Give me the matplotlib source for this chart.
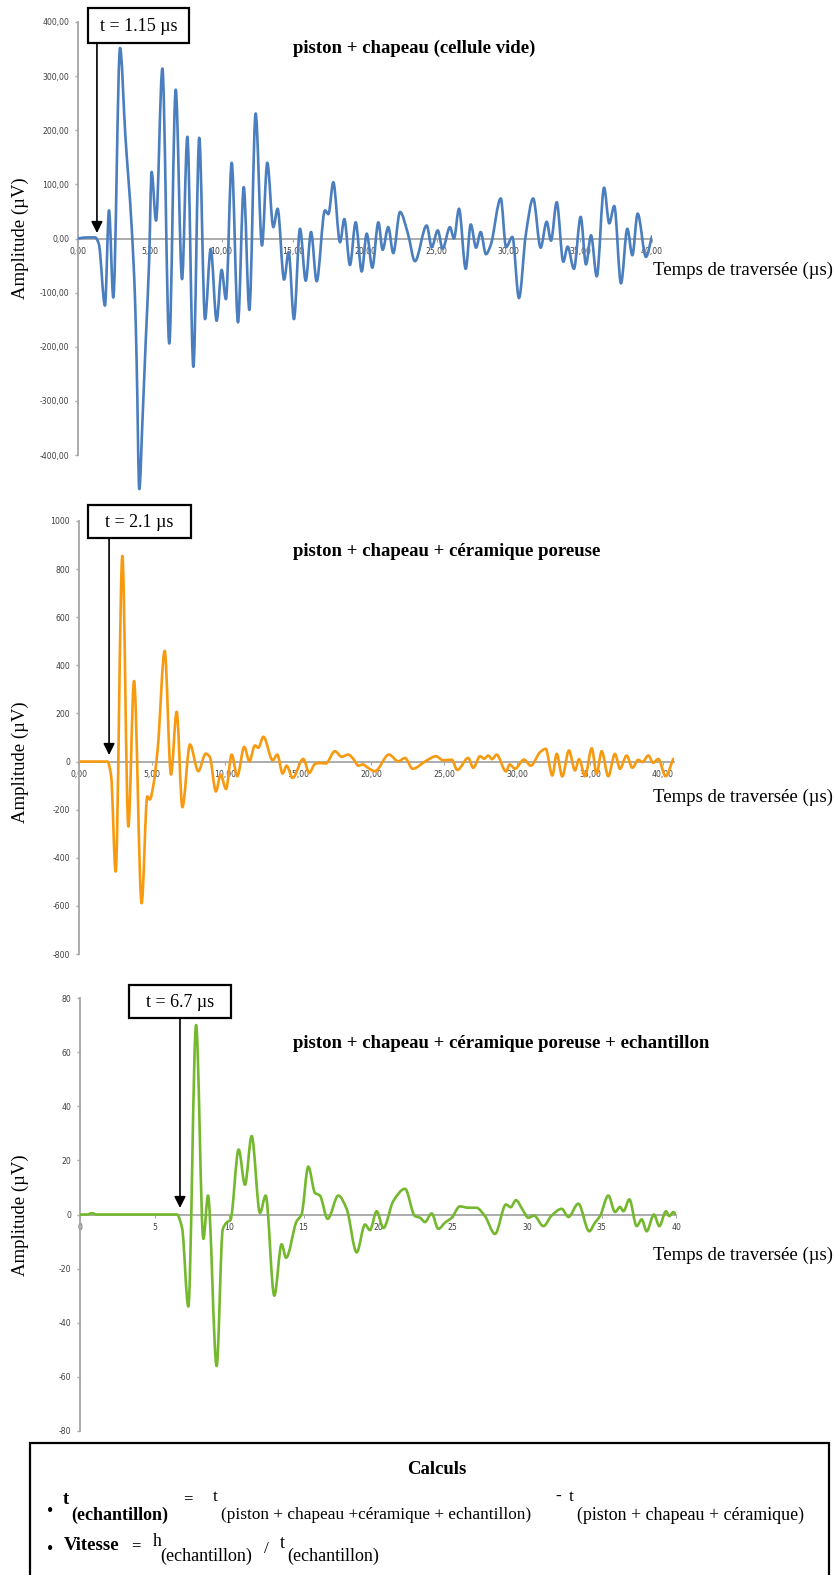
import matplotlib
matplotlib.use("Agg")
import matplotlib.pyplot as plt
import numpy as np
from matplotlib.path import Path
from matplotlib.patches import PathPatch, Rectangle

# ---------------- data ----------------
t1 = [0, 0.6, 1.2, 1.45, 1.88, 2.16, 2.46, 2.93, 3.3, 3.74, 3.97, 4.09, 4.27, 4.5, 4.72, 4.95,
      5.13, 5.44, 5.88, 6.36, 6.81, 7.25, 7.62, 8.04, 8.45, 8.85, 9.25, 9.66, 10.01, 10.31, 10.71,
      11.15, 11.55, 11.94, 12.38, 12.82, 13.19, 13.61, 13.91, 14.36, 14.68, 15.05, 15.47, 15.87,
      16.24, 16.63, 17.21, 17.45, 17.79, 18.26, 18.56, 18.95, 19.35, 19.77, 20.12, 20.51, 20.93,
      21.23, 21.62, 21.97, 22.44, 23.0, 23.48, 24.3, 24.65, 25.07, 25.41, 25.92, 26.2, 26.55,
      27.02, 27.37, 27.74, 28.06, 28.43, 28.76, 29.46, 29.83, 30.27, 30.73, 31.2, 31.72, 32.24,
      32.66, 32.96, 33.36, 33.82, 34.12, 34.56, 35.03, 35.4, 35.75, 36.15, 36.66, 37.02, 37.37,
      37.84, 38.28, 38.63, 39.0, 39.58, 40.0]
a1 = [0, 2, 2, -10, -124, 52, -109, 352, 190, 21, -109, -232, -463, -331, -189, -47,
      123, 33, 314, -194, 275, -75, 188, -237, 186, -149, -19, -152, -58, -112, 140,
      -155, 95, -132, 231, -13, 140, 21, 55, -76, -25, -149, 18, -78,
      12, -79, 52, 45, 104, -7, 36, -49, 30, -61, 9, -54, 30,
      -21, 21, -27, 49, 8, -42, 24, -16, 15, -19, 21, 0, 55,
      -56, 26, -17, 12, -29, -12, 74, -16, 3, -110, 6, 74, -17,
      31, -4, 67, -43, -15, -56, 40, -48, 6, -70, 94, 28, 60,
      -83, 18, -31, 46, -34, 4]

t2 = [0, 1.0, 1.95, 2.2, 2.51, 2.97, 3.38, 3.77, 4.29, 4.68, 4.85, 5.1, 5.4, 5.87, 6.3, 6.69,
      7.08, 7.6, 8.17, 8.68, 8.95, 9.38, 9.7, 10.07, 10.46, 10.84, 11.32, 11.67, 12.05, 12.28,
      12.63, 13.27, 13.58, 13.95, 14.22, 14.63, 15.36, 15.77, 16.16, 16.5, 16.9, 17.53, 17.99,
      18.45, 18.8, 19.13, 19.45, 19.7, 20.27, 21.23, 21.87, 22.33, 22.85, 23.8, 24.45, 24.95,
      25.53, 25.91, 26.66, 27.0, 27.47, 27.75, 28.03, 28.3, 28.6, 29.25, 29.5, 29.86, 30.48,
      30.94, 31.58, 31.96, 32.42, 32.72, 33.1, 33.56, 33.97, 34.25, 34.66, 35.12, 35.45, 35.8,
      36.25, 36.71, 37.05, 37.51, 37.9, 38.3, 38.6, 38.99, 39.33, 39.68, 40.18, 40.7]
a2 = [0, 0, 0, -60, -457, 855, -270, 335, -589, -145, -158, -96, 60, 460, -54, 207,
      -190, 71, -40, 33, 20, -124, -54, -114, 29, -61, 61, 1, 67, 57,
      103, 5, 29, -50, -17, -68, 11, -47, -10, -6, -8, 43, 20,
      29, 10, -17, -12, -22, -40, 29, 1, 15, -30, 4, 22, 5,
      8, -35, 15, -26, 22, 12, 25, 10, 29, -41, -12, -30, 8,
      -17, 39, 53, -58, 32, -62, 46, -37, 10, -61, 55, -51, 43,
      -61, 32, -30, 25, -26, 7, -2, 25, -5, 11, -61, 11]

t3 = [0, 0.5, 0.8, 1.1, 6.5, 6.85, 7.27, 7.79, 8.28, 8.59, 9.17, 9.58, 9.84, 10.1, 10.65,
      11.07, 11.52, 12.08, 12.46, 13.04, 13.53, 13.83, 14.54, 14.87, 15.32, 15.77, 16.1,
      16.62, 17.34, 17.9, 18.57, 19.13, 19.46, 19.91, 20.36, 21.03, 21.81, 22.48, 22.82,
      23.15, 23.6, 24.05, 24.5, 24.94, 25.5, 26.06, 26.6, 27.18, 27.85, 28.59, 28.9, 29.26,
      29.7, 30.09, 30.47, 31.1, 31.65, 32.33, 32.78, 33.44, 34.18, 34.56, 34.9, 35.46,
      35.91, 36.24, 36.47, 36.87, 37.36, 37.7, 38.03, 38.52, 38.88, 39.33, 39.55, 39.82, 40.0]
a3 = [0, 0, 0.5, 0, 0, -5, -34, 70, -9, 7, -56, -5.5, -3, -2, 24,
      11, 29, 0.6, 7, -30, -11, -16, -2.5, 0, 17.7, 8, 7,
      -1.6, 7, 2, -14, -3.7, -5.8, 1.2, -5, 5, 9.5, -0.6, -1.2,
      -2.8, 0.4, -5.3, -3, -1.2, 3, 2.5, 2.5, -0.6, -7.2, 3.7, 2.7, 5.3,
      1.8, -1.2, -0.4, -4.3, -0.4, 2.1, -0.9, 4, -6.2, -3, -0.6, 7,
      0.9, 2.8, 1.2, 5.6, -4.3, -1.8, -6.2, 0, -4.3, 1.2, -0.6, 0.9, 0]

titles = ["piston + chapeau (cellule vide)",
          "piston + chapeau + céramique poreuse",
          "piston + chapeau + céramique poreuse + echantillon"]
onset_labels = ["t = 1.15 µs", "t = 2.1 µs", "t = 6.7 µs"]
xticks1 = [0, 5, 10, 15, 20, 25, 30, 35, 40]
yticks1 = [-400, -300, -200, -100, 0, 100, 200, 300, 400]
yticks2 = [-800, -600, -400, -200, 0, 200, 400, 600, 800, 1000]
yticks3 = [-80, -60, -40, -20, 0, 20, 40, 60, 80]
colors = ["#4a7ebf", "#f79a0f", "#74b82e"]

# ---------------- figure ----------------
W, H = 835, 1575
fig = plt.figure(figsize=(W / 100, H / 100), dpi=100)
fig.patch.set_facecolor("white")
SERIF = "Liberation Serif"
TICKFONT = "DejaVu Sans"
AXC = "#a6a6a6"


def fx(px):
    return px / W


def fy(py):
    return 1 - py / H


def smooth_path(x, y):
    """Excel-like smoothed line rendered as cubic Bezier segments."""
    x = np.asarray(x, float)
    y = np.asarray(y, float)
    h = np.diff(x)
    d = np.diff(y) / h
    n = len(x)
    m = np.zeros(n)
    m[0], m[-1] = d[0], d[-1]
    for i in range(1, n - 1):
        if d[i - 1] * d[i] <= 0:
            m[i] = 0.0
        else:
            w1 = 2 * h[i] + h[i - 1]
            w2 = h[i] + 2 * h[i - 1]
            m[i] = (w1 + w2) / (w1 / d[i - 1] + w2 / d[i])
    verts = [(x[0], y[0])]
    codes = [Path.MOVETO]
    for i in range(n - 1):
        verts += [(x[i] + h[i] / 3, y[i] + m[i] * h[i] / 3),
                  (x[i + 1] - h[i] / 3, y[i + 1] - m[i + 1] * h[i] / 3),
                  (x[i + 1], y[i + 1])]
        codes += [Path.CURVE4] * 3
    return Path(verts, codes)


def make_panel(x0, x1, ytop, ybot, xlim, ylim, xticks, yticks, xfmt, yfmt, ybounds):
    ax = fig.add_axes([fx(x0), fy(ybot), (x1 - x0) / W, (ybot - ytop) / H])
    ax.set_xlim(*xlim)
    ax.set_ylim(*ylim)
    ax.patch.set_alpha(0)
    for s in ("top", "right"):
        ax.spines[s].set_visible(False)
    ax.spines["left"].set_color(AXC)
    ax.spines["left"].set_linewidth(1.3)
    ax.spines["left"].set_bounds(*ybounds)
    ax.spines["bottom"].set_position(("data", 0))
    ax.spines["bottom"].set_color(AXC)
    ax.spines["bottom"].set_linewidth(1.3)
    ax.set_xticks(xticks)
    ax.set_xticklabels([xfmt(v) for v in xticks])
    ax.set_yticks(yticks)
    ax.set_yticklabels([yfmt(v) for v in yticks])
    ax.tick_params(axis="y", direction="out", length=2.2, width=1.0, color=AXC,
                   pad=4.2, labelsize=5.6, labelcolor="#404040")
    ax.tick_params(axis="x", direction="out", length=1.8, width=0.8, color=AXC,
                   pad=4.0, labelsize=5.6, labelcolor="#404040")
    for lab in ax.get_xticklabels() + ax.get_yticklabels():
        lab.set_fontfamily(TICKFONT)
    return ax


fmt2 = lambda v: f"{v:.2f}".replace(".", ",")
fmti = lambda v: f"{v:d}"

ax1 = make_panel(78, 652, 22, 22 + 875 * 0.54125, (0, 40), (-475, 400),
                 xticks1, yticks1, fmt2, fmt2, (-400, 400))
ax2 = make_panel(79, 79 + 40.75 * 14.6, 521, 954, (0, 40.75), (-800, 1000),
                 xticks1, yticks2, fmt2, fmti, (-800, 1000))
ax3 = make_panel(80, 676, 998, 1431, (0, 40), (-80, 80),
                 xticks1, yticks3, fmti, fmti, (-80, 80))

axes = [ax1, ax2, ax3]
series = [(t1, a1), (t2, a2), (t3, a3)]
for ax, (tt, aa), c in zip(axes, series, colors):
    ax.add_patch(PathPatch(smooth_path(tt, aa), facecolor="none", edgecolor=c,
                           lw=1.9, zorder=3, capstyle="round", joinstyle="round"))

# titles, axis labels
title_y = [48, 552, 1043]
zero_y = [238, 762, 1215]
xlabel_y = [270, 797, 1255]
for ttl, ty, zy, xy in zip(titles, title_y, zero_y, xlabel_y):
    fig.text(fx(293), fy(ty), ttl, fontfamily=SERIF, fontweight="bold", fontsize=13.5,
             ha="left", va="center")
    fig.text(fx(20), fy(zy), "Amplitude (µV)", fontfamily=SERIF, fontsize=13.5,
             rotation=90, ha="center", va="center")
    fig.text(fx(653), fy(xy), "Temps de traversée (µs)", fontfamily=SERIF, fontsize=13.5,
             ha="left", va="center")

# onset boxes and arrows
boxes = [(88, 189, 8, 43), (88, 191, 505, 538), (129, 231, 985, 1018)]
arrow_t = [1.32, 2.06, 6.71]
arrow_tip = [233, 755, 1208]
for ax, lab, (bx0, bx1, by0, by1), at, tip in zip(axes, onset_labels, boxes, arrow_t, arrow_tip):
    fig.add_artist(Rectangle((fx(bx0), fy(by1)), (bx1 - bx0) / W, (by1 - by0) / H,
                             transform=fig.transFigure, fill=True, facecolor="white",
                             edgecolor="black", lw=1.6, zorder=5))
    fig.text(fx((bx0 + bx1) / 2), fy((by0 + by1) / 2 + 1), lab, fontfamily=SERIF,
             fontsize=13, ha="center", va="center", zorder=6)
    x_pix = ax.transData.transform((at, 0))[0]
    ax.annotate("", xy=(at, H - tip), xycoords=("data", "figure pixels"),
                xytext=(x_pix, H - by1), textcoords="figure pixels",
                arrowprops=dict(arrowstyle="-|>", color="black", lw=1.2,
                                mutation_scale=17, shrinkA=0, shrinkB=0),
                annotation_clip=False, zorder=6)

# Calculs box
fig.add_artist(Rectangle((fx(30), fy(1590)), (829 - 30) / W, (1590 - 1443) / H,
                         transform=fig.transFigure, fill=False, edgecolor="black",
                         lw=1.6, clip_on=False))


def t(x, y, s, size=12.5, weight="normal", ha="left"):
    fig.text(fx(x), fy(y), s, fontfamily=SERIF, fontsize=size, fontweight=weight,
             ha=ha, va="center")


t(437, 1469, "Calculs", size=13.5, weight="bold", ha="center")
# line 1
t(50, 1511, "•", size=13, ha="center")
t(63, 1499, "t", size=13.5, weight="bold")
t(71, 1515, "(echantillon)", size=13, weight="bold")
t(188, 1499, "=", size=12, weight="bold", ha="center")
t(213, 1497, "t", size=12.5)
t(221, 1515, "(piston + chapeau +céramique + echantillon)", size=12.4)
t(558, 1497, "-", size=12.5, weight="bold", ha="center")
t(569, 1497, "t", size=12.5)
t(577, 1515, "(piston + chapeau + céramique)", size=12.9)
# line 2
t(50, 1550, "•", size=13, ha="center")
t(64, 1546, "Vitesse", size=13.5, weight="bold")
t(136, 1546, "=", size=12, weight="bold", ha="center")
t(153, 1542, "h", size=12.8)
t(160, 1556, "(echantillon)", size=13)
t(266, 1549, "/", size=12.5, ha="center")
t(280, 1544, "t", size=12.8)
t(287, 1556, "(echantillon)", size=13)

fig.savefig("out.png", dpi=100, facecolor="white")
